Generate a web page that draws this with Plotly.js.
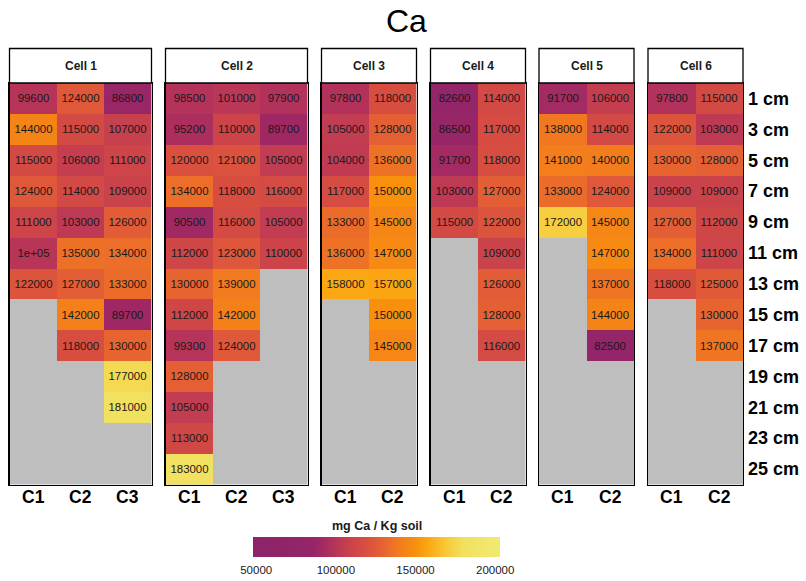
<!DOCTYPE html>
<html>
<head>
<meta charset="utf-8">
<script src="https://cdn.plot.ly/plotly-3.0.1.min.js"></script>
<style>
  html, body { margin: 0; padding: 0; background: #ffffff; }
  #chart { width: 806px; height: 581px; }
</style>
</head>
<body>
<div id="chart"></div>
<script>
// Soil calcium by depth (mg Ca / Kg soil), per cell and core
const depths = ["1 cm", "3 cm", "5 cm", "7 cm", "9 cm", "11 cm", "13 cm",
                "15 cm", "17 cm", "19 cm", "21 cm", "23 cm", "25 cm"];
const cellNames = ["Cell 1", "Cell 2", "Cell 3", "Cell 4", "Cell 5", "Cell 6"];
const coreNames = ["C1", "C2", "C3"];

// Each cell: one array per core, top (1 cm) downward
const cell1 = [
  [99600, 144000, 115000, 124000, 111000, 100000, 122000],
  [124000, 115000, 106000, 114000, 103000, 135000, 127000, 142000, 118000],
  [86800, 107000, 111000, 109000, 126000, 134000, 133000, 89700, 130000, 177000, 181000]
];
const cell2 = [
  [98500, 95200, 120000, 134000, 90500, 112000, 130000, 112000, 99300, 128000, 105000, 113000, 183000],
  [101000, 110000, 121000, 118000, 116000, 123000, 139000, 142000, 124000],
  [97900, 89700, 105000, 116000, 105000, 110000]
];
const cell3 = [
  [97800, 105000, 104000, 117000, 133000, 136000, 158000],
  [118000, 128000, 136000, 150000, 145000, 147000, 157000, 150000, 145000]
];
const cell4 = [
  [82600, 86500, 91700, 103000, 115000],
  [114000, 117000, 118000, 127000, 122000, 109000, 126000, 128000, 116000]
];
const cell5 = [
  [91700, 138000, 141000, 133000, 172000],
  [106000, 114000, 140000, 124000, 145000, 147000, 137000, 144000, 82500]
];
const cell6 = [
  [97800, 122000, 130000, 109000, 127000, 134000, 118000],
  [115000, 103000, 128000, 109000, 112000, 111000, 125000, 130000, 137000]
];
const cells = [cell1, cell2, cell3, cell4, cell5, cell6];

const scaleTicks = [50000, 100000, 150000, 200000];
const zMin = 48000, zMax = 203000;

// Colour ramp: purple -> red -> orange -> yellow
const rampValues = [48000, 85000, 92000, 100000, 110000, 120000, 130000, 140000, 150000, 158000, 170000, 180000, 203000];
const rampColors = ["#8c2369", "#952568", "#a42a62", "#b83558", "#cc4449", "#da503f",
                    "#e76431", "#f37c1d", "#f8900e", "#fba814", "#f8ca38", "#f2e05e", "#f0ea72"];
const colorscale = rampValues.map((v, i) => [(v - zMin) / (zMax - zMin), rampColors[i]]);

// Panel geometry (pixels in a 806 x 581 page)
const W = 806, H = 581;
const panelPx = [[9.5, 151.5], [165.5, 307.5], [321.5, 416.5], [430.5, 525.5], [539, 634], [648, 743]];
const panelTop = 83, panelBottom = 484.5, stripTop = 48.5;
const font = "Liberation Sans, Arial, sans-serif";

// Number label like R's default print: use scientific when it is shorter
function fmt(v) {
  const fixed = String(v);
  let sci = v.toExponential().replace(/\.?0+e/, "e");
  sci = sci.replace(/e\+(\d)$/, "e+0$1").replace(/e-(\d)$/, "e-0$1");
  return sci.length < fixed.length ? sci : fixed;
}

const colorbarBase = {
  orientation: "h",
  x: 253 / W, xanchor: "left",
  len: 247 / W, lenmode: "fraction",
  y: 1 - 536.5 / H, yanchor: "top",
  thickness: 20, thicknessmode: "pixels",
  xpad: 0, ypad: 0, outlinewidth: 0,
  tickvals: scaleTicks, tickformat: "d"
};

const traces = [];
const layout = {
  width: W, height: H,
  margin: {l: 0, r: 0, t: 0, b: 0, pad: 0},
  paper_bgcolor: "#ffffff",
  plot_bgcolor: "#bebebe",
  font: {family: font, color: "#1a1a1a"},
  showlegend: false,
  shapes: [],
  annotations: []
};

cells.forEach((cols, k) => {
  const cores = coreNames.slice(0, cols.length);
  const z = depths.map((_, r) => cols.map(col => (r < col.length ? col[r] : null)));
  const text = z.map(row => row.map(v => (v === null ? "" : fmt(v))));
  const ax = k === 0 ? "" : String(k + 1);
  traces.push({
    type: "heatmap",
    x: cores, y: depths, z: z, text: text,
    texttemplate: "%{text}",
    textfont: {family: font, size: 11.4, color: "#1a1a1a"},
    colorscale: colorscale, zmin: zMin, zmax: zMax,
    xaxis: "x" + ax, yaxis: "y" + ax,
    hoverinfo: "skip",
    showscale: k === 0,
    // labelled scale; the invisible outside ticks set the label gap
    colorbar: Object.assign({}, colorbarBase, {
      ticks: "outside", ticklen: 4, tickcolor: "rgba(0,0,0,0)",
      tickfont: {family: font, size: 11.5, color: "#1a1a1a"}
    })
  });

  const [x0, x1] = panelPx[k];
  layout["xaxis" + ax] = {
    domain: [x0 / W, x1 / W],
    anchor: "y" + ax,
    type: "category",
    categoryorder: "array", categoryarray: cores,
    range: [-0.5, cores.length - 0.5],
    showgrid: false, zeroline: false,
    showline: true, mirror: true, linecolor: "#000000", linewidth: 1.3,
    ticks: "", showticklabels: false,
    fixedrange: true
  };
  layout["yaxis" + ax] = {
    domain: [1 - panelBottom / H, 1 - panelTop / H],
    anchor: "x" + ax,
    type: "category",
    categoryorder: "array", categoryarray: depths,
    range: [depths.length - 0.5, -0.5],
    showgrid: false, zeroline: false,
    showline: true, mirror: true, linecolor: "#000000", linewidth: 1.3,
    side: "right",
    showticklabels: k === cells.length - 1,
    ticks: "", ticklabelstandoff: 0,
    tickfont: {family: font, size: 18, color: "#000000", weight: "bold"},
    fixedrange: true
  };

  // core labels under the panel
  cores.forEach(c => {
    layout.annotations.push({
      xref: "x" + ax, yref: "paper", x: c, y: 1 - 497 / H,
      xanchor: "center", yanchor: "middle", showarrow: false,
      text: c, font: {family: font, size: 17.5, color: "#000000", weight: "bold"}
    });
  });

  // strip header box with the cell name
  layout.shapes.push({
    type: "rect", xref: "paper", yref: "paper",
    x0: x0 / W, x1: x1 / W, y0: 1 - panelTop / H, y1: 1 - stripTop / H,
    fillcolor: "#ffffff", line: {color: "#000000", width: 1.3}
  });
  layout.annotations.push({
    xref: "paper", yref: "paper",
    x: (x0 + x1) / 2 / W, y: 1 - (stripTop + panelTop) / 2 / H,
    xanchor: "center", yanchor: "middle", showarrow: false,
    text: cellNames[k],
    font: {family: font, size: 12, color: "#1a1a1a", weight: "bold"}
  });
});

// same scale drawn again on top, carrying only the white tick marks
traces.push({
  type: "heatmap",
  x: ["C1"], y: ["1 cm"], z: [[null]],
  colorscale: colorscale, zmin: zMin, zmax: zMax,
  xaxis: "x", yaxis: "y", hoverinfo: "skip",
  showscale: true,
  colorbar: Object.assign({}, colorbarBase, {
    ticks: "inside", ticklen: 4, tickwidth: 1, tickcolor: "#ffffff",
    showticklabels: false
  })
});

// main title
layout.annotations.push({
  xref: "paper", yref: "paper", x: 406 / W, y: 1 - 21 / H,
  xanchor: "center", yanchor: "middle", showarrow: false,
  text: "Ca", font: {family: font, size: 32, color: "#000000"}
});
// colour bar title
layout.annotations.push({
  xref: "paper", yref: "paper", x: 376.5 / W, y: 1 - 526 / H,
  xanchor: "center", yanchor: "middle", showarrow: false,
  text: "mg Ca / Kg soil", font: {family: font, size: 12.5, color: "#1a1a1a", weight: "bold"}
});

Plotly.newPlot("chart", traces, layout, {staticPlot: true, displayModeBar: false});
</script>
</body>
</html>
